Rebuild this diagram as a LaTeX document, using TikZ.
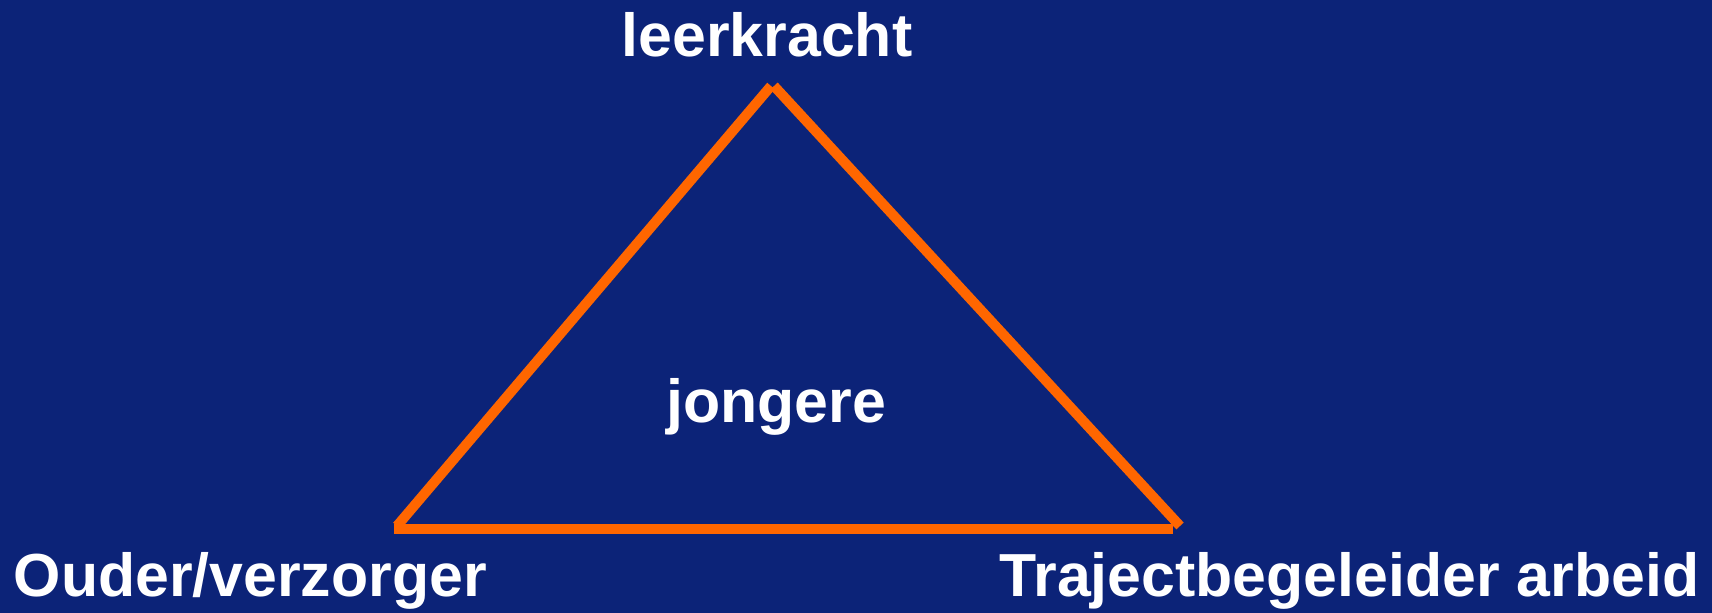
\documentclass[tikz,border=0pt]{standalone}
\usepackage{fontspec}
\setmainfont{Liberation Sans}
\usepackage{tikz}
\usetikzlibrary{calc}
\definecolor{achtergrond}{RGB}{12,35,120}
\definecolor{oranje}{RGB}{255,102,0}
\tikzset{
    zijde/.style={draw=oranje, line width=2.85pt, line cap=butt},
    rol/.style={text=white, inner sep=0pt, font=\bfseries\fontsize{17.3}{20}\selectfont},
}

\begin{document}
\begin{tikzpicture}
            \fill[achtergrond] (0,0) rectangle (17.12,6.13);
            \useasboundingbox (0,0) rectangle (17.12,6.13);
            % hoekpunten van de driehoek
            \coordinate (L1) at (3.97,0.87);
            \coordinate (T1) at (7.71,5.27);
            \coordinate (T2) at (7.74,5.27);
            \coordinate (R1) at (11.80,0.87);
            \coordinate (L2) at (3.94,0.84);
            \coordinate (R2) at (11.73,0.84);
            \draw[zijde] (L1) -- (T1);
            \draw[zijde] (T2) -- (R1);
            \draw[zijde] (L2) -- (R2);
            % namen
            \node[rol, anchor=base] (leerkracht) at (7.67,5.56) {leerkracht};
            \node[rol, anchor=base] (jongere) at (7.76,1.90) {jongere};
            \node[rol, anchor=base west] (ouder) at (0.13,0.16) {Ouder/verzorger};
            \node[rol, anchor=base west] (begeleider) at (9.99,0.16) {Trajectbegeleider arbeid};
        \end{tikzpicture}
\end{document}
